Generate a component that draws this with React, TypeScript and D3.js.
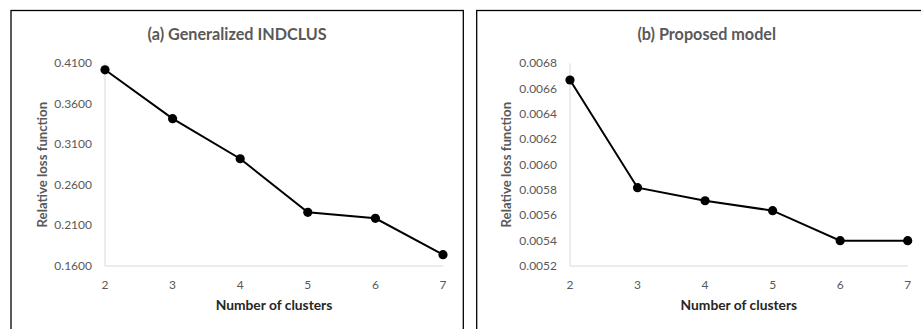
import React from 'react';
import * as d3 from 'd3';

// number of clusters on the x axis
const clusters = [2, 3, 4, 5, 6, 7];

// relative loss values
const indclusLoss = [0.402, 0.3417, 0.2923, 0.2262, 0.2188, 0.174];
const proposedLoss = [0.006668, 0.005818, 0.005715, 0.005637, 0.0054, 0.0054];

// y tick labels
const indclusTicks = [0.16, 0.21, 0.26, 0.31, 0.36, 0.41];
const proposedTicks = [0.0052, 0.0054, 0.0056, 0.0058, 0.006, 0.0062, 0.0064, 0.0066, 0.0068];

const titles = ['(a) Generalized INDCLUS', '(b) Proposed model'];

const FONT = 'Lato, "Open Sans", sans-serif';

type PanelProps = {
  left: number;
  width: number;
  plotLeft: number;
  plotRight: number;
  title: string;
  values: number[];
  ticks: number[];
  yTitleX: number;
};

const Panel = ({ left, width, plotLeft, plotRight, title, values, ticks, yTitleX }: PanelProps) => {
  const top = 63.3;
  const bottom = 266;

  const x = d3.scaleLinear().domain([2, 7]).range([plotLeft, plotRight]);
  const y = d3.scaleLinear().domain([ticks[0], ticks[ticks.length - 1]]).range([bottom, top]);

  const line = d3.line<number>()
    .x((d, i) => x(clusters[i]))
    .y(d => y(d));

  const midX = (plotLeft + plotRight) / 2;
  const midY = (top + bottom) / 2;

  return (
    <g>
      <rect x={left} y={10.5} width={width} height={340} fill="#fff" stroke="#000" strokeWidth={1.3} />
      <text x={left + width / 2} y={39.5} textAnchor="middle" fontFamily={FONT} fontWeight="bold"
        fontSize={16.2} fill="#595959">{title}</text>

      {/* axes */}
      <line x1={plotLeft} x2={plotLeft} y1={top} y2={bottom} stroke="#d9d9d9" strokeWidth={1} />
      <line x1={plotLeft} x2={plotRight} y1={bottom} y2={bottom} stroke="#d9d9d9" strokeWidth={1} />

      {ticks.map(t => (
        <text key={t} x={plotLeft - 13} y={y(t) + 4} textAnchor="end" fontFamily={FONT}
          fontSize={12} fill="#595959">{t.toFixed(4)}</text>
      ))}
      {clusters.map(c => (
        <text key={c} x={x(c)} y={288.5} textAnchor="middle" fontFamily={FONT}
          fontSize={12} fill="#595959">{c}</text>
      ))}

      <text x={midX} y={310} textAnchor="middle" fontFamily={FONT} fontWeight="bold"
        fontSize={13.8} fill="#262626">Number of clusters</text>
      <text transform={`translate(${yTitleX},${midY}) rotate(-90)`} textAnchor="middle"
        dy="0.35em" fontFamily={FONT} fontWeight="bold" fontSize={13.2} fill="#595959">
        Relative loss function
      </text>

      <path d={line(values) ?? ''} fill="none" stroke="#000" strokeWidth={2} />
      {values.map((v, i) => (
        <circle key={i} cx={x(clusters[i])} cy={y(v)} r={4.6} fill="#000" />
      ))}
    </g>
  );
};

export default function App() {
  return (
    <svg width={921} height={329} style={{ position: 'absolute', left: 0, top: 0, background: '#fff' }}>
      <rect width={921} height={329} fill="#fff" />
      <Panel left={11} width={452.3} plotLeft={105} plotRight={443} title={titles[0]}
        values={indclusLoss} ticks={indclusTicks} yTitleX={42} />
      <Panel left={476.7} width={460} plotLeft={570} plotRight={907.7} title={titles[1]}
        values={proposedLoss} ticks={proposedTicks} yTitleX={506.7} />
    </svg>
  );
}
